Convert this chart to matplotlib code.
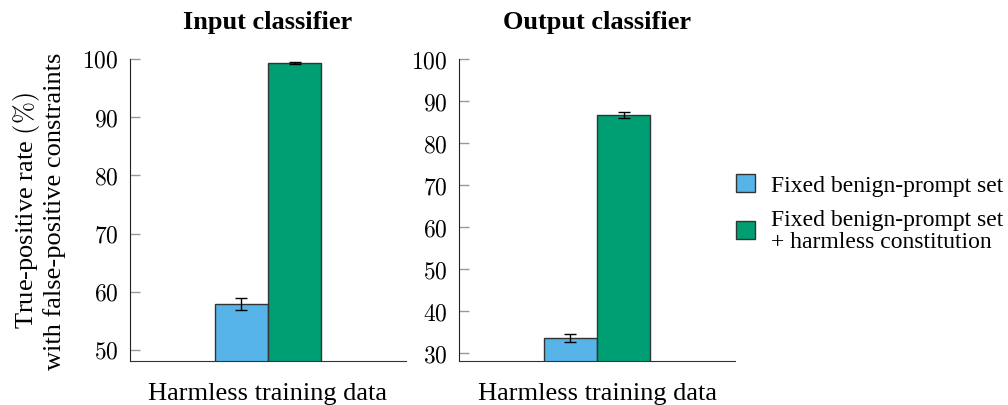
import matplotlib
matplotlib.use("Agg")
import matplotlib.pyplot as plt
from matplotlib.patches import Patch

plt.rcParams["font.family"] = ["Liberation Serif", "DejaVu Serif"]
plt.rcParams["mathtext.fontset"] = "cm"

panels = ["Input classifier", "Output classifier"]
series = ["Fixed benign-prompt set", "Fixed benign-prompt set\n+ harmless constitution"]
values = [[57.9, 99.3], [33.6, 86.7]]
errors = [[1.0, 0.15], [0.9, 0.7]]
ylims = [(48.1, 100), (28.1, 100)]
yticks = [[50, 60, 70, 80, 90, 100], [30, 40, 50, 60, 70, 80, 90, 100]]
xlabel = "Harmless training data"

_BLUE = "#56B4E9"
_GREEN = "#009E73"
colors = [_BLUE, _GREEN]

fig = plt.figure(figsize=(10.08, 4.06), dpi=100)
axes = [
    fig.add_axes([130 / 1008, 1 - 362 / 406, 276 / 1008, 302 / 406]),
    fig.add_axes([459 / 1008, 1 - 362 / 406, 276 / 1008, 302 / 406]),
]

for i, ax in enumerate(axes):
    for j, (v, e) in enumerate(zip(values[i], errors[i])):
        ax.bar(j - 0.5, v, width=1.0, color=colors[j], edgecolor="#333333",
               linewidth=1.0, zorder=2)
        ax.errorbar(j - 0.5, v, yerr=e, color="black", capsize=4,
                    elinewidth=1.0, capthick=1.0, zorder=3)
    ax.set_xlim(-2.6, 2.6)
    ax.set_ylim(*ylims[i])
    ax.set_yticks(yticks[i])
    ax.set_yticklabels([f"${t}$" for t in yticks[i]])
    ax.set_xticks([])
    ax.tick_params(axis="y", direction="in", length=7, width=1.0,
                   color="#999999", labelsize=17, pad=8)
    for s in ("top", "right"):
        ax.spines[s].set_visible(False)
    ax.spines["left"].set_color("#222222")
    ax.spines["bottom"].set_color("#333333")
    ax.set_title(panels[i], fontsize=19, fontweight="bold", pad=22)
    ax.set_xlabel(xlabel, fontsize=19, labelpad=15)

axes[0].set_ylabel("True-positive rate $(\\%)$\nwith false-positive constraints",
                   fontsize=19, labelpad=12, linespacing=1.05)

handles = [Patch(facecolor=c, edgecolor="#333333", linewidth=1.0) for c in colors]
leg = fig.legend(handles, series, loc="center left",
                 bbox_to_anchor=(736 / 1008, 1 - 214 / 406),
                 frameon=False, fontsize=17, handlelength=0.8, handleheight=0.8,
                 handletextpad=0.7, labelspacing=0.55, borderpad=0, borderaxespad=0)
for t in leg.get_texts():
    t.set_linespacing(1.1)

fig.savefig("out.png", dpi=100)
